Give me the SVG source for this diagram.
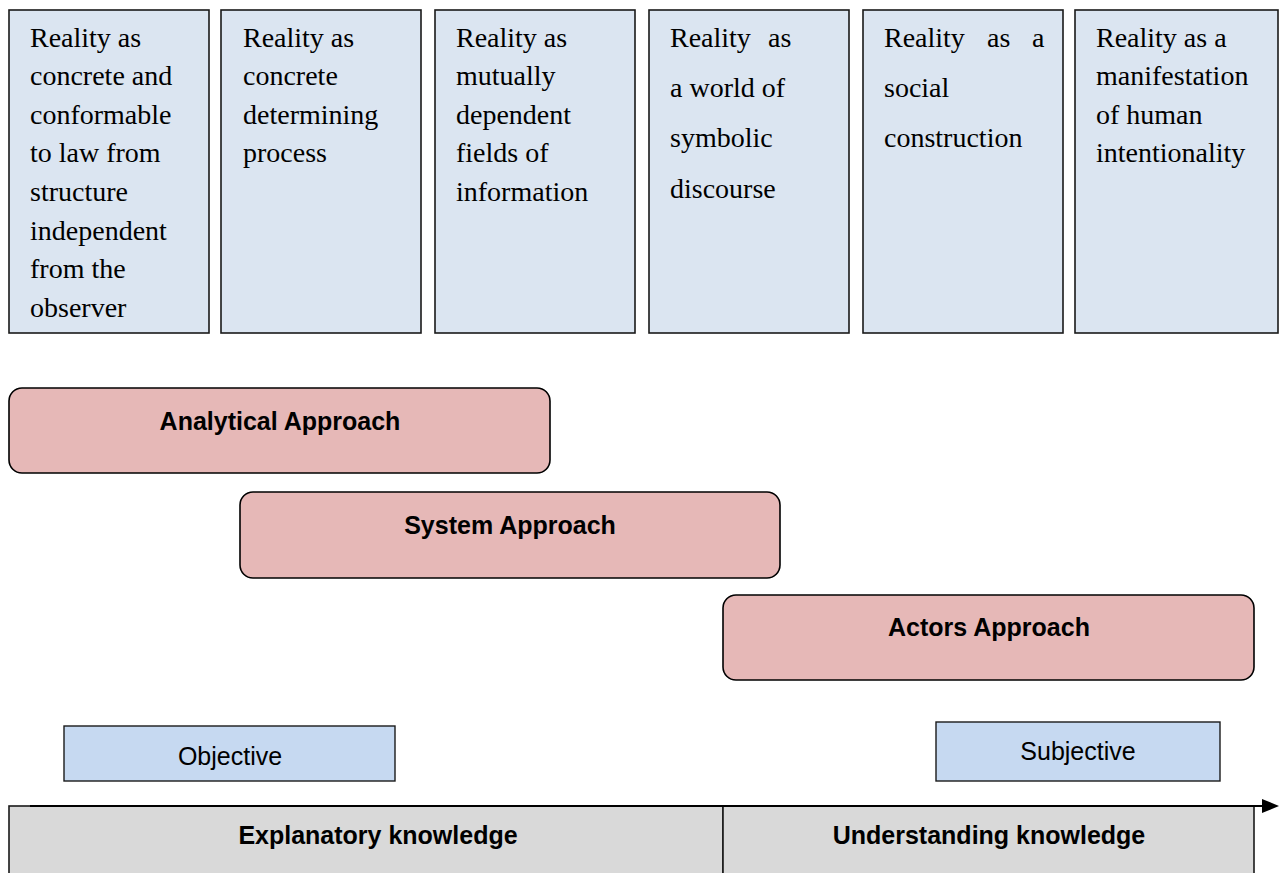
<svg xmlns="http://www.w3.org/2000/svg" width="1282" height="873" viewBox="0 0 1282 873">
<style>
.top{fill:#dbe5f1;stroke:#1a1a1a;stroke-width:1.6}
.appr{fill:#e6b8b7;stroke:#000;stroke-width:1.6}
.obj{fill:#c6d9f1;stroke:#1a1a1a;stroke-width:1.4}
.bar{fill:#d9d9d9;stroke:#1a1a1a;stroke-width:1.6}
.serif{font-family:"Liberation Serif","Times New Roman",serif;font-size:28px;fill:#000}
.bold{font-family:"Liberation Sans",Arial,sans-serif;font-size:25px;font-weight:bold;fill:#000;text-anchor:middle}
.reg{font-family:"Liberation Sans",Arial,sans-serif;font-size:25px;fill:#000;text-anchor:middle}
</style>
<defs>
<marker id="arr" markerWidth="17" markerHeight="15" refX="0" refY="7" orient="auto" markerUnits="userSpaceOnUse" viewBox="0 0 17 14">
<path d="M0,0 L17,7 L0,14 Z" fill="#000"/>
</marker>
</defs>
<rect width="1282" height="873" fill="#fff"/>

<g id="reality1">
<rect class="top" x="9" y="10" width="200" height="323"/>
<text class="serif"><tspan x="30" y="47">Reality as</tspan><tspan x="30" y="85">concrete and</tspan><tspan x="30" y="124">conformable</tspan><tspan x="30" y="162">to law from</tspan><tspan x="30" y="201">structure</tspan><tspan x="30" y="240">independent</tspan><tspan x="30" y="278">from the</tspan><tspan x="30" y="317">observer</tspan></text>
</g>
<g id="reality2">
<rect class="top" x="221" y="10" width="200" height="323"/>
<text class="serif"><tspan x="243" y="47">Reality as</tspan><tspan x="243" y="85">concrete</tspan><tspan x="243" y="124">determining</tspan><tspan x="243" y="162">process</tspan></text>
</g>
<g id="reality3">
<rect class="top" x="435" y="10" width="200" height="323"/>
<text class="serif"><tspan x="456" y="47">Reality as</tspan><tspan x="456" y="85">mutually</tspan><tspan x="456" y="124">dependent</tspan><tspan x="456" y="162">fields of</tspan><tspan x="456" y="201">information</tspan></text>
</g>
<g id="reality4">
<rect class="top" x="649" y="10" width="200" height="323"/>
<text class="serif"><tspan x="670" y="47">Reality</tspan><tspan x="768" y="47">as</tspan><tspan x="670" y="97">a world of</tspan><tspan x="670" y="147">symbolic</tspan><tspan x="670" y="198">discourse</tspan></text>
</g>
<g id="reality5">
<rect class="top" x="863" y="10" width="200" height="323"/>
<text class="serif"><tspan x="884" y="47">Reality</tspan><tspan x="987" y="47">as</tspan><tspan x="1032" y="47">a</tspan><tspan x="884" y="97">social</tspan><tspan x="884" y="147">construction</tspan></text>
</g>
<g id="reality6">
<rect class="top" x="1075" y="10" width="203" height="323"/>
<text class="serif"><tspan x="1096" y="47">Reality as a</tspan><tspan x="1096" y="85">manifestation</tspan><tspan x="1096" y="124">of human</tspan><tspan x="1096" y="162">intentionality</tspan></text>
</g>

<g id="analytical">
<rect class="appr" x="9" y="388" width="541" height="85" rx="13"/>
<text class="bold" x="280" y="430">Analytical Approach</text>
</g>
<g id="system">
<rect class="appr" x="240" y="492" width="540" height="86" rx="13"/>
<text class="bold" x="510" y="534">System Approach</text>
</g>
<g id="actors">
<rect class="appr" x="723" y="595" width="531" height="85" rx="13"/>
<text class="bold" x="989" y="636">Actors Approach</text>
</g>

<g id="objective">
<rect class="obj" x="64" y="726" width="331" height="55"/>
<text class="reg" x="230" y="765">Objective</text>
</g>
<g id="subjective">
<rect class="obj" x="936" y="722" width="284" height="59"/>
<text class="reg" x="1078" y="760">Subjective</text>
</g>

<g id="explanatory">
<rect class="bar" x="9" y="806" width="714" height="80"/>
<text class="bold" x="378" y="844">Explanatory knowledge</text>
</g>
<g id="understanding">
<rect class="bar" x="723" y="806" width="531" height="80"/>
<text class="bold" x="989" y="844">Understanding knowledge</text>
</g>

<g id="connectors">
<line x1="30" y1="806" x2="1262" y2="806" stroke="#000" stroke-width="1.8" marker-end="url(#arr)"/>
</g>
</svg>
